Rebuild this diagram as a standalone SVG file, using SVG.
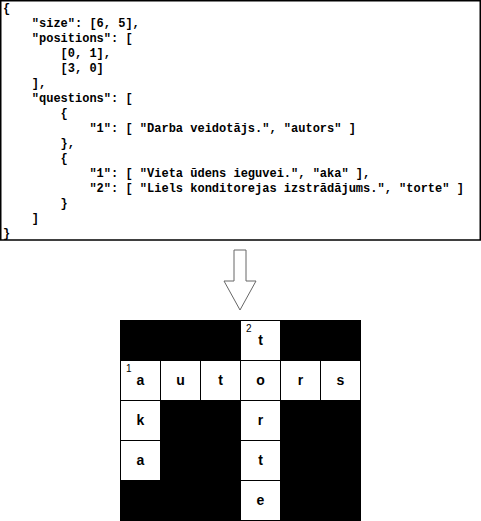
<svg xmlns="http://www.w3.org/2000/svg" width="481" height="521" viewBox="0 0 481 521">
<style>
.code{font-family:"Liberation Mono",monospace;font-size:12px;font-weight:bold;fill:#000;white-space:pre}
.blk{fill:#000;stroke:none}
.cell{fill:#fff;stroke:#000;stroke-width:1}
.let{font-family:"Liberation Sans",Arial,sans-serif;font-size:14px;font-weight:bold;fill:#000;text-anchor:middle}
.num{font-family:"Liberation Sans",Arial,sans-serif;font-size:10px;fill:#000}
</style>
<rect width="481" height="521" fill="#fff"/>
<g id="json">
<rect x="0.75" y="0.75" width="479.5" height="239.25" fill="#fff" stroke="#000" stroke-width="1.5"/>
<text class="code" xml:space="preserve"><tspan x="3" y="12">{</tspan><tspan x="3" y="27">    "size": [6, 5],</tspan><tspan x="3" y="42">    "positions": [</tspan><tspan x="3" y="57">        [0, 1],</tspan><tspan x="3" y="72">        [3, 0]</tspan><tspan x="3" y="87">    ],</tspan><tspan x="3" y="102">    "questions": [</tspan><tspan x="3" y="117">        {</tspan><tspan x="3" y="132">            "1": [ "Darba veidotājs.", "autors" ]</tspan><tspan x="3" y="147">        },</tspan><tspan x="3" y="162">        {</tspan><tspan x="3" y="177">            "1": [ "Vieta ūdens ieguvei.", "aka" ],</tspan><tspan x="3" y="192">            "2": [ "Liels konditorejas izstrādājums.", "torte" ]</tspan><tspan x="3" y="207">        }</tspan><tspan x="3" y="222">    ]</tspan><tspan x="3" y="237">}</tspan></text>
</g>
<g id="connectors">
<path d="M234,250 L246,250 L246,281 L256,281 L240,310 L224,281 L234,281 Z" fill="#fff" stroke="#666" stroke-width="1"/>
</g>
<g id="grid">
<rect class="blk" x="120" y="320" width="241" height="201"/>
<g id="cells">
<rect class="cell" x="240.5" y="320.5" width="40" height="40"/>
<rect class="cell" x="120.5" y="360.5" width="40" height="40"/>
<rect class="cell" x="160.5" y="360.5" width="40" height="40"/>
<rect class="cell" x="200.5" y="360.5" width="40" height="40"/>
<rect class="cell" x="240.5" y="360.5" width="40" height="40"/>
<rect class="cell" x="280.5" y="360.5" width="40" height="40"/>
<rect class="cell" x="320.5" y="360.5" width="40" height="40"/>
<rect class="cell" x="120.5" y="400.5" width="40" height="40"/>
<rect class="cell" x="240.5" y="400.5" width="40" height="40"/>
<rect class="cell" x="120.5" y="440.5" width="40" height="40"/>
<rect class="cell" x="240.5" y="440.5" width="40" height="40"/>
<rect class="cell" x="240.5" y="480.5" width="40" height="40"/>
</g>
<g id="letters">
<text class="let" x="260.5" y="345">t</text>
<text class="let" x="140.5" y="385">a</text>
<text class="let" x="180.5" y="385">u</text>
<text class="let" x="220.5" y="385">t</text>
<text class="let" x="260.5" y="385">o</text>
<text class="let" x="300.5" y="385">r</text>
<text class="let" x="340.5" y="385">s</text>
<text class="let" x="140.5" y="425">k</text>
<text class="let" x="260.5" y="425">r</text>
<text class="let" x="140.5" y="465">a</text>
<text class="let" x="260.5" y="465">t</text>
<text class="let" x="260.5" y="505">e</text>
<text class="num" x="126" y="372">1</text>
<text class="num" x="246" y="332">2</text>
</g>
</g>
</svg>
